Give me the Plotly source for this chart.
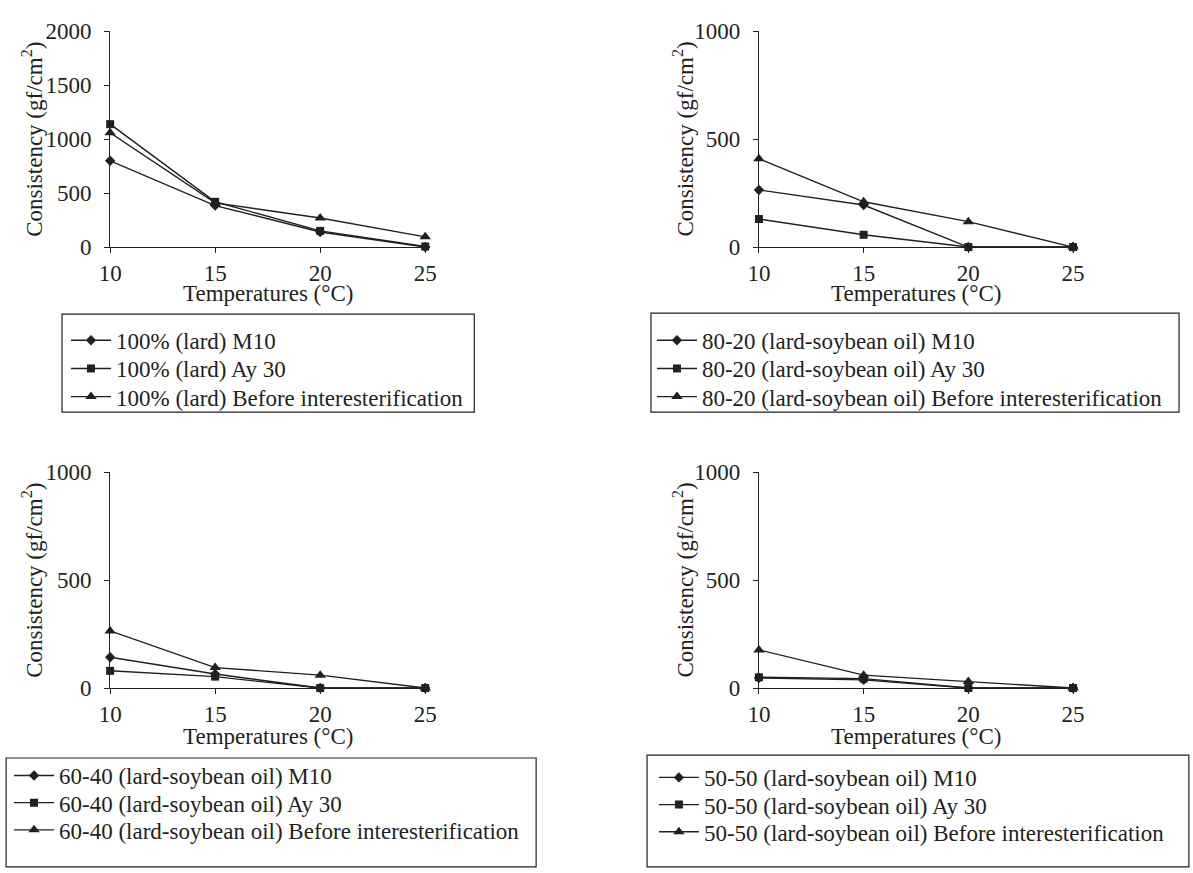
import plotly.graph_objects as go

W, H = 1193, 873

temps = [10, 15, 20, 25]

lard100_m10 = [800, 385, 140, 0]
lard100_ay30 = [1140, 420, 150, 5]
lard100_before = [1060, 410, 270, 95]

s8020_m10 = [265, 195, 0, 0]
s8020_ay30 = [130, 57, 0, 0]
s8020_before = [410, 210, 118, 0]

s6040_m10 = [143, 65, 0, 0]
s6040_ay30 = [80, 53, 0, 0]
s6040_before = [265, 95, 60, 0]

s5050_m10 = [47, 38, 0, 0]
s5050_ay30 = [50, 44, 0, 0]
s5050_before = [177, 60, 30, 0]

prefixes = ["100% (lard)", "80-20 (lard-soybean oil)", "60-40 (lard-soybean oil)", "50-50 (lard-soybean oil)"]
series_names = ["M10", "Ay 30", "Before interesterification"]
y_max = [2000, 1000, 1000, 1000]
y_ticks = [[0, 500, 1000, 1500, 2000], [0, 500, 1000], [0, 500, 1000], [0, 500, 1000]]
x_title = "Temperatures (°C)"
y_title = "Consistency (gf/cm<sup>2</sup>)"

panel_data = [
    [lard100_m10, lard100_ay30, lard100_before],
    [s8020_m10, s8020_ay30, s8020_before],
    [s6040_m10, s6040_ay30, s6040_before],
    [s5050_m10, s5050_ay30, s5050_before],
]

INK = "#231f20"
FONT = "Liberation Serif"
FS = 23
symbols = ["diamond", "square", "triangle-up"]
msizes = [8, 8, 10]

def px(x):
    return x / W

def py(y):
    return 1 - y / H

# pixel layout per panel: (x_left, x_right, y_top, y_bottom)
panels = [
    (101, 422, 20, 242),
    (762, 1082, 20, 242),
    (101, 422, 474, 696),
    (762, 1082, 474, 696),
]
xtitle_gap = [48, 48, 50, 50]
# legend column x and row centres (pixels)
legend_x = [56, 653, -2, 655]
legend_rows = [(338, 367, 396), (338, 367, 396), (786, 814, 842), (788, 816, 844)]
boxes = [(52, 472, 311, 412), (652, 1190, 310, 412), (-5, 535, 768, 880), (648, 1200, 765, 880)]
ytitle_x = [22, 685, 22, 685]

fig = go.Figure()
layout = dict(
    width=W, height=H, margin=dict(l=0, r=0, t=0, b=0),
    paper_bgcolor="white", plot_bgcolor="white",
    font=dict(family=FONT, color=INK, size=FS),
    showlegend=True,
)
annotations = []
shapes = []

k = 0
for i in range(4):
    xl, xr, yt, yb = panels[i]
    ax = "" if i == 0 else str(i + 1)
    for j in range(3):
        k += 1
        leg = "legend" if k == 1 else f"legend{k}"
        fig.add_trace(go.Scatter(
            x=temps, y=panel_data[i][j], mode="lines+markers",
            name=f"{prefixes[i]} {series_names[j]}",
            line=dict(color=INK, width=1.4),
            marker=dict(symbol=symbols[j], size=msizes[j], color=INK),
            xaxis="x" + ax, yaxis="y" + ax, legend=leg, cliponaxis=False,
        ))
        layout[leg] = dict(x=px(legend_x[i]), y=py(legend_rows[i][j]),
                           xanchor="left", yanchor="middle",
                           bgcolor="rgba(0,0,0,0)", borderwidth=0,
                           font=dict(family=FONT, size=FS, color=INK), itemwidth=40)
    common = dict(showline=True, linecolor=INK, linewidth=1, ticks="outside",
                  ticklen=5, tickcolor=INK, tickwidth=1, showgrid=False, zeroline=False,
                  tickfont=dict(family=FONT, size=FS, color=INK))
    layout["xaxis" + ax] = dict(domain=[px(xl), px(xr)], range=[10, 25],
                                tickvals=temps, anchor="y" + ax, **common)
    layout["yaxis" + ax] = dict(domain=[py(yb), py(yt)], range=[0, y_max[i]],
                                tickvals=y_ticks[i], anchor="x" + ax,
                                ticklabelstandoff=8, **common)
    annotations.append(dict(text=x_title, x=px((xl + xr) / 2), y=py(yb + xtitle_gap[i]),
                            xref="paper", yref="paper", showarrow=False,
                            xanchor="center", yanchor="middle",
                            font=dict(family=FONT, size=FS, color=INK)))
    annotations.append(dict(text=y_title, x=px(ytitle_x[i]), y=py((yt + yb) / 2),
                            xref="paper", yref="paper", showarrow=False, textangle=-90,
                            xanchor="center", yanchor="middle",
                            font=dict(family=FONT, size=FS, color=INK)))
    bx0, bx1, by0, by1 = boxes[i]
    shapes.append(dict(type="rect", xref="paper", yref="paper",
                       x0=px(bx0), x1=px(bx1), y0=py(by0), y1=py(by1),
                       line=dict(color=INK, width=1.2), fillcolor="rgba(0,0,0,0)"))

layout["annotations"] = annotations
layout["shapes"] = shapes
fig.update_layout(**layout)
fig.write_html("out.html")
